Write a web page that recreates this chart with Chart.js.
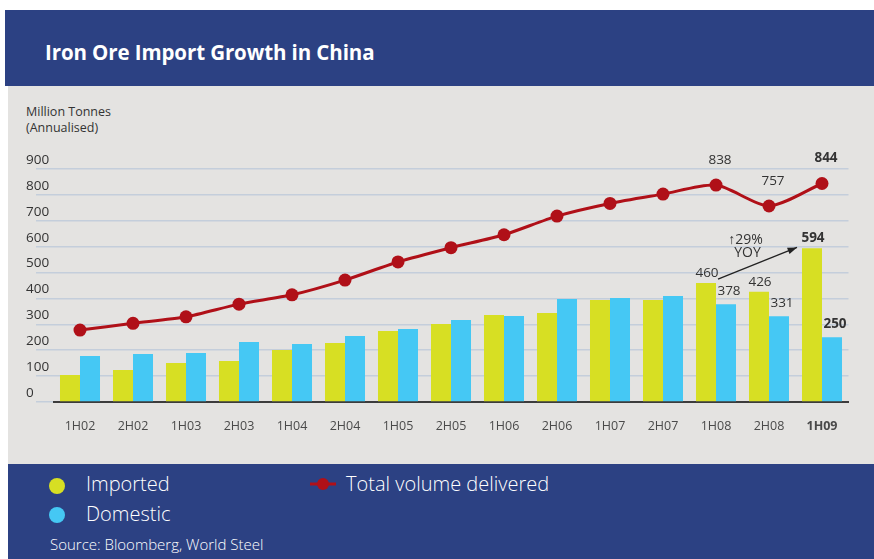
<!DOCTYPE html>
<html>
<head>
<meta charset="utf-8">
<script src="https://cdn.jsdelivr.net/npm/chart.js@4.4.0/dist/chart.umd.min.js"></script>
<style>
body { margin: 0; background: #fff; width: 874px; height: 559px; overflow: hidden; font-family: "Open Sans", sans-serif; position: relative; }
#head { position: absolute; left: 5px; top: 10px; width: 869px; height: 76px; background: #2c4183; }
#head span { position: absolute; left: 40px; top: 28px; color: #fff; font-size: 20.5px; font-weight: 700; letter-spacing: -0.1px; }
#panel { position: absolute; left: 8px; top: 86px; width: 866px; height: 378px; background: #e4e3e1; }
#chart { position: absolute; left: 8px; top: 86px; }
#unit { position: absolute; left: 26px; top: 104px; color: #333; font-size: 12.5px; line-height: 16px; }
#foot { position: absolute; left: 8px; top: 464px; width: 866px; height: 95px; background: #2c4183; color: #fff; }
.key { position: absolute; font-size: 20px; font-weight: 300; }
.dot { position: absolute; width: 16px; height: 16px; border-radius: 50%; }
#src { position: absolute; left: 42px; top: 70px; font-size: 15px; font-weight: 300; }
</style>
</head>
<body>
<div id="head"><span>Iron Ore Import Growth in China</span></div>
<div id="panel"></div>
<div id="unit">Million Tonnes<br>(Annualised)</div>
<canvas id="chart" width="866" height="378"></canvas>
<div id="foot">
  <div class="dot" style="left:41px;top:14px;background:#d7df23"></div>
  <div class="key" style="left:78px;top:6px">Imported</div>
  <div class="dot" style="left:41px;top:43px;background:#45c8f4"></div>
  <div class="key" style="left:78px;top:36px">Domestic</div>
  <svg style="position:absolute;left:300px;top:13px" width="30" height="14"><line x1="2" y1="7" x2="28" y2="7" stroke="#b01018" stroke-width="3"/><circle cx="15" cy="7" r="6" fill="#b01018"/></svg>
  <div class="key" style="left:338px;top:6px">Total volume delivered</div>
  <div id="src">Source: Bloomberg, World Steel</div>
</div>
<script>
var periods = ['1H02', '2H02', '1H03', '2H03', '1H04', '2H04', '1H05', '2H05', '1H06', '2H06', '1H07', '2H07', '1H08', '2H08', '1H09'];
var imported = [104, 124, 151, 158, 201, 228, 274, 301, 336, 344, 394, 394, 460, 426, 594];
var domestic = [178, 185, 189, 232, 224, 255, 282, 317, 332, 398, 402, 409, 378, 331, 250];
var totalVolume = [278, 304, 329, 378, 414, 471, 541, 596, 646, 718, 767, 803, 838, 757, 844];
var yTicks = [0, 100, 200, 300, 400, 500, 600, 700, 800, 900];

// which points get a value printed next to them, and which are bold
var lineLabels = { 12: false, 13: false, 14: true };
var barLabels = { 12: false, 13: false, 14: true };
// the YOY arrow runs between these two import values
var arrowFrom = 475, arrowTo = 597;

var red = '#b01018', yellow = '#d7df23', cyan = '#45c8f4', ink = '#333';

var annotate = {
    id: 'annotate',
    afterDatasetsDraw: function(chart) {
        var ctx = chart.ctx;
        var y = chart.scales.y;
        var lineMeta = chart.getDatasetMeta(0);
        var impMeta = chart.getDatasetMeta(1);
        var domMeta = chart.getDatasetMeta(2);
        ctx.save();
        ctx.fillStyle = ink;
        ctx.textAlign = 'center';
        ctx.textBaseline = 'middle';
        function font(bold) { ctx.font = (bold ? '700 ' : '400 ') + '13.5px "Open Sans"'; }

        Object.keys(lineLabels).forEach(function(i) {
            var p = lineMeta.data[i];
            font(lineLabels[i]);
            ctx.fillText(totalVolume[i], p.x + 4, p.y - 25);
        });
        Object.keys(barLabels).forEach(function(i) {
            var b = impMeta.data[i];
            font(barLabels[i]);
            ctx.fillText(imported[i], b.x + 1, b.y - 10);
            var d = domMeta.data[i];
            ctx.fillText(domestic[i], d.x + 3, d.y - 13);
        });

        // arrow 1H08 -> 1H09
        var x1 = impMeta.data[12].x + 12, y1 = y.getPixelForValue(arrowFrom);
        var x2 = impMeta.data[14].x - 15, y2 = y.getPixelForValue(arrowTo);
        ctx.strokeStyle = '#222';
        ctx.lineWidth = 1.3;
        ctx.beginPath();
        ctx.moveTo(x1, y1);
        ctx.lineTo(x2, y2);
        ctx.stroke();
        var a = Math.atan2(y2 - y1, x2 - x1);
        ctx.fillStyle = '#222';
        ctx.beginPath();
        ctx.moveTo(x2, y2);
        ctx.lineTo(x2 - 10 * Math.cos(a - 0.35), y2 - 10 * Math.sin(a - 0.35));
        ctx.lineTo(x2 - 10 * Math.cos(a + 0.35), y2 - 10 * Math.sin(a + 0.35));
        ctx.closePath();
        ctx.fill();
        var mx = (x1 + x2) / 2, my = (y1 + y2) / 2;
        ctx.fillStyle = ink;
        ctx.font = '400 14px "Open Sans"';
        ctx.fillText('\u219129%', mx - 12, my - 23);
        ctx.fillText('YOY', mx - 10, my - 10);
        ctx.restore();
    }
};

var ironOre = document.getElementById('chart').getContext('2d');
var ironOreChart = new Chart(ironOre, {
    type: 'bar',
    data: {
        labels: periods,
        datasets: [{
                type: 'line',
                label: 'Total volume delivered',
                data: totalVolume,
                borderColor: red,
                backgroundColor: red,
                borderWidth: 3,
                pointRadius: 6.5,
                pointBorderWidth: 0,
                pointBackgroundColor: red,
                tension: 0.25,
                order: 0
            },
            {
                label: 'Imported',
                data: imported,
                backgroundColor: yellow,
                order: 1
            },
            {
                label: 'Domestic',
                data: domestic,
                backgroundColor: cyan,
                order: 1
            }
        ]
    },
    options: {
        responsive: false,
        animation: false,
        devicePixelRatio: 1,
        categoryPercentage: 0.755,
        barPercentage: 1,
        layout: { padding: { left: 18, top: 83, right: 25.5, bottom: 0 } },
        plugins: {
            legend: { display: false },
            tooltip: { enabled: false }
        },
        scales: {
            x: {
                grid: { display: false, drawTicks: false },
                border: { display: true, color: '#3c3c3c', width: 2 },
                ticks: {
                    color: '#4a4a4a',
                    padding: 17,
                    maxRotation: 0,
                    font: function(c) {
                        return { family: '"Open Sans"', size: 12.5, weight: c.index === periods.length - 1 ? '700' : '400' };
                    }
                },
                afterFit: function(s) { s.height = 62; }
            },
            y: {
                min: 0,
                max: 900,
                afterBuildTicks: function(s) { s.ticks = yTicks.map(function(v) { return { value: v }; }); },
                grid: { color: '#c4cedb', lineWidth: 1.5, tickLength: 17.5, drawTicks: true },
                border: { display: false },
                ticks: {
                    color: ink,
                    crossAlign: 'far',
                    labelOffset: -9,
                    font: { family: '"Open Sans"', size: 13.5 }
                },
                afterFit: function(s) { s.width = 27.5; }
            }
        }
    },
    plugins: [annotate]
});
</script>
</body>
</html>
